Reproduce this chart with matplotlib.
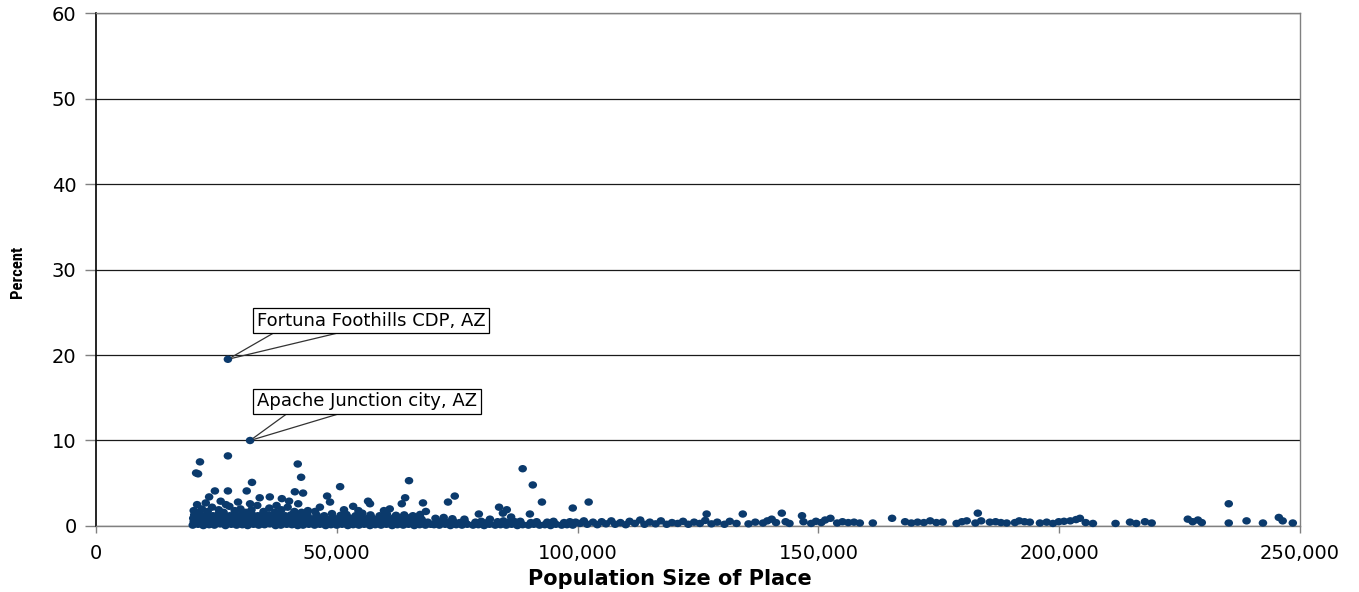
import matplotlib
matplotlib.use("Agg")
import matplotlib.pyplot as plt
from matplotlib import font_manager
from matplotlib.path import Path
from matplotlib.transforms import Affine2D
import numpy as np

# ---- places of 20,000 to 45,000 people
pop_small = [
    20100, 21200, 22300, 23500, 24600, 25800, 26900, 28100, 29200, 30400, 31500,
    32700, 33800, 35000, 36100, 37300, 38400, 39600, 40700, 41900, 43000, 44200,
    20300, 21700, 22900, 24000, 25200, 26300, 27500, 28600, 29800, 30900, 32100,
    33200, 34400, 35500, 36700, 37800, 39000, 40100, 41300, 42400, 43600, 44700,
    20200, 21400, 22600, 23800, 24900, 26100, 27200, 28400, 29500, 30700, 31800,
    33000, 34100, 35300, 36400, 37600, 38700, 39900, 41000, 42200, 43300, 44500,
    20400, 21900, 23100, 24300, 25400, 26600, 27800, 28900, 30100, 31200, 32400,
    33600, 34700, 35900, 37000, 38200, 39300, 40500, 41600, 42800, 43900,
    20300, 21100, 22000, 23200, 24100, 25500, 26500, 27700, 28800, 30000, 31100,
    32300, 33500, 34800, 36000, 37200, 38500, 39800, 41200, 42700, 44000,
    24700, 27400, 31300, 41300, 43000, 23500, 36100, 29500, 34000, 38600, 40100,
    22800, 25900, 27000, 32000, 37500, 42000, 21000,
]
pct_small = [
    0.10, 0.20, 0.05, 0.15, 0.10, 0.25, 0.05, 0.20, 0.10, 0.15, 0.05,
    0.20, 0.10, 0.15, 0.25, 0.05, 0.10, 0.20, 0.15, 0.05, 0.10, 0.20,
    0.50, 0.45, 0.60, 0.40, 0.55, 0.50, 0.45, 0.60, 0.40, 0.50, 0.55,
    0.45, 0.60, 0.50, 0.40, 0.55, 0.45, 0.50, 0.60, 0.40, 0.50, 0.45,
    0.90, 0.85, 1.00, 0.80, 0.95, 0.90, 0.85, 1.00, 0.80, 0.90, 0.95,
    0.85, 1.00, 0.90, 0.80, 0.95, 0.85, 0.90, 1.00, 0.80, 0.90, 0.85,
    1.30, 1.25, 1.40, 1.20, 1.35, 1.30, 1.20, 1.40, 1.25, 1.30, 1.35,
    1.20, 1.40, 1.30, 1.25, 1.35, 1.20, 1.30, 1.40, 1.25, 1.30,
    1.80, 1.60, 2.00, 1.70, 2.20, 1.90, 1.60, 2.30, 1.80, 2.00, 1.60,
    1.90, 2.40, 1.70, 2.10, 1.60, 1.90, 2.20, 1.70, 1.60, 1.80,
    4.10, 4.10, 4.10, 4.00, 3.85, 3.40, 3.40, 2.80, 3.30, 3.20, 2.90,
    2.70, 2.90, 2.50, 2.60, 2.40, 2.60, 2.50,
]

# ---- 45,000 to 70,000
pop_mid = [
    45400, 46500, 47700, 48800, 50000, 51100, 52300, 53400, 54600, 55700, 56900,
    58000, 59200, 60300, 61500, 62600, 63800, 64900, 66100, 67200, 68400, 69500,
    45900, 47100, 48200, 49400, 50500, 51700, 52800, 54000, 55100, 56300, 57400,
    58600, 59700, 60900, 62000, 63200, 64300, 65500, 66600, 67800, 68900,
    45300, 46700, 47900, 49100, 50200, 51400, 52600, 53700, 54900, 56100, 57200,
    58400, 59500, 60700, 61800, 63000, 64100, 65300, 66400, 67600,
    45800, 47400, 49000, 50800, 52000, 53900, 55300, 57000, 58900, 60400, 62300,
    64000, 65800, 67300,
    46500, 48000, 48600, 50700, 53400, 56500, 56900, 63500, 64200, 65000, 67900,
    51500, 59800, 61000, 45500, 54500, 68500,
]
pct_mid = [
    0.10, 0.20, 0.05, 0.15, 0.10, 0.20, 0.05, 0.15, 0.10, 0.20, 0.05,
    0.15, 0.10, 0.20, 0.05, 0.15, 0.10, 0.20, 0.05, 0.15, 0.10, 0.20,
    0.50, 0.45, 0.55, 0.40, 0.50, 0.60, 0.45, 0.50, 0.40, 0.55, 0.50,
    0.45, 0.60, 0.40, 0.50, 0.55, 0.45, 0.50, 0.40, 0.55, 0.45,
    0.85, 0.90, 0.80, 1.00, 0.85, 0.90, 0.95, 0.80, 0.90, 0.85, 1.00,
    0.80, 0.90, 0.85, 0.95, 0.80, 0.90, 1.00, 0.85, 0.80,
    1.30, 1.20, 1.45, 1.25, 1.35, 1.20, 1.50, 1.30, 1.20, 1.40, 1.25,
    1.30, 1.20, 1.35,
    2.20, 3.50, 2.80, 4.60, 2.30, 2.90, 2.60, 2.60, 3.30, 5.30, 2.70,
    1.90, 1.80, 2.00, 1.70, 1.80, 1.70,
]

# ---- 70,000 to 100,000
pop_upper = [
    70200, 71300, 72500, 73600, 74800, 76000, 77100, 78300, 79400, 80600, 81700,
    82900, 84000, 85200, 86300, 87500, 88600, 89800, 90900, 92100, 93200, 94400,
    95500, 96700, 97800, 99000,
    70700, 71900, 73000, 74200, 75500, 76600, 78800, 80000, 81200, 83400, 84600,
    85800, 87000, 88100, 90300, 91500, 93700, 95000, 97200, 98400, 99600,
    70500, 72200, 74000, 79500, 84500, 85300, 86200, 90100, 76500, 81800,
    73100, 74500, 83700, 88600, 90700, 92600, 99000,
]
pct_upper = [
    0.15, 0.10, 0.20, 0.05, 0.15, 0.10, 0.20, 0.10, 0.15, 0.05, 0.20,
    0.10, 0.15, 0.10, 0.20, 0.05, 0.15, 0.10, 0.20, 0.10, 0.15, 0.05,
    0.20, 0.10, 0.15, 0.10,
    0.50, 0.60, 0.45, 0.55, 0.40, 0.50, 0.45, 0.55, 0.40, 0.50, 0.60,
    0.45, 0.50, 0.55, 0.40, 0.50, 0.45, 0.55, 0.40, 0.50, 0.45,
    0.90, 1.00, 0.85, 1.40, 1.50, 1.90, 1.05, 1.40, 0.80, 0.80,
    2.80, 3.50, 2.20, 6.70, 4.80, 2.80, 2.10,
]

# ---- 100,000 to 250,000
pop_large = [
    100500, 101300, 102000, 103200, 104100, 105000, 105900, 107000, 107800,
    108900, 110000, 110800, 111900, 113000, 113900, 115000, 116200, 117300,
    118500, 119600, 120800, 121900, 123000, 124200, 125400, 126500, 126800,
    127800, 129000, 130500, 131600, 133000, 134300, 135500, 136900, 138500,
    139400, 140300, 141200, 142400, 143200, 144000, 146600, 146900, 148500,
    149500, 150600, 151400, 152500, 153900, 155000, 156200, 157400, 158600,
    161300, 165300, 168000, 169300, 170600, 171900, 173200, 174500, 175800,
    178700, 179800, 180800, 183100, 182600, 183800, 185600, 186800, 187900,
    189100, 190800, 191700, 192800, 193900, 196000, 197400, 198700, 199900,
    201000, 202300, 203500, 204300, 205500, 207000, 211700, 214700, 216000,
    217800, 219200, 226700, 227700, 228800, 229600, 235200, 238900, 242300,
    245600, 246400, 248500, 102300, 235200,
]
pct_large = [
    0.30, 0.60, 0.20, 0.45, 0.15, 0.50, 0.25, 0.60, 0.20,
    0.40, 0.15, 0.55, 0.30, 0.70, 0.20, 0.45, 0.25, 0.60,
    0.20, 0.40, 0.30, 0.55, 0.20, 0.45, 0.30, 0.65, 1.40,
    0.25, 0.45, 0.20, 0.55, 0.30, 1.40, 0.25, 0.45, 0.35,
    0.60, 0.80, 0.40, 1.50, 0.50, 0.30, 1.20, 0.50, 0.30,
    0.55, 0.40, 0.70, 0.90, 0.35, 0.50, 0.40, 0.45, 0.35,
    0.35, 0.90, 0.50, 0.35, 0.45, 0.40, 0.60, 0.40, 0.45,
    0.30, 0.50, 0.60, 1.50, 0.35, 0.60, 0.45, 0.50, 0.40,
    0.35, 0.40, 0.60, 0.50, 0.45, 0.35, 0.45, 0.30, 0.50,
    0.55, 0.60, 0.75, 0.90, 0.40, 0.30, 0.30, 0.45, 0.30,
    0.50, 0.35, 0.80, 0.50, 0.70, 0.40, 0.35, 0.60, 0.35,
    1.00, 0.60, 0.35, 2.80, 2.60,
]

# ---- high values
pop_high = [27400, 32000, 27400, 21600, 20800, 21200, 41900, 42600, 32400]
pct_high = [19.5, 10.0, 8.2, 7.5, 6.2, 6.1, 7.25, 5.7, 5.1]

# callouts: labelled place, box centre, and where the two leader lines leave the box
labels = ["Fortuna Foothills CDP, AZ", "Apache Junction city, AZ"]
label_pop = [27400, 32000]
label_pct = [19.5, 10.0]
label_box_pop = [57100, 56300]
label_box_pct = [24.0, 14.6]
leader_pop = [(38200, 53400), (40300, 52100)]
leader_pct = [23.0, 13.4]

x_ticks = [0, 50000, 100000, 150000, 200000, 250000]
y_ticks = [0, 10, 20, 30, 40, 50, 60]

pop = np.concatenate([pop_small, pop_mid, pop_upper, pop_large, pop_high])
pct = np.concatenate([pct_small, pct_mid, pct_upper, pct_large, pct_high])

navy = "#0b3a6c"

# narrow face for the y label if one is around
installed = {f.name for f in font_manager.fontManager.ttflist}
narrow = next((n for n in ["Liberation Sans Narrow", "DejaVu Sans Condensed",
                           "Roboto Condensed", "Open Sans Condensed"] if n in installed),
              "Liberation Sans")

# slightly wide dots
dot = Path.unit_circle().transformed(Affine2D().scale(1.15, 1.0))

fig = plt.figure(figsize=(13.59, 5.92), dpi=100)
ax = fig.add_axes([0.0706, 0.1115, 0.886, 0.8665])

ax.scatter(pop, pct, s=38, marker=dot, color=navy, edgecolors="none", zorder=3,
           clip_on=False)

ax.set_xlim(0, 250000)
ax.set_ylim(0, 60)
ax.set_xticks(x_ticks)
ax.set_xticklabels([f"{t:,}" for t in x_ticks])
ax.set_yticks(y_ticks)

ax.grid(axis="y", color="#1a1a1a", linewidth=0.9, zorder=1)
ax.grid(axis="x", visible=False)
ax.set_axisbelow(True)

ax.spines["left"].set_color("black")
ax.spines["left"].set_linewidth(1.2)
for side in ["top", "right", "bottom"]:
    ax.spines[side].set_color("#808080")
    ax.spines[side].set_linewidth(1.0)

ax.tick_params(axis="y", direction="out", length=8, width=1, color="#808080",
               labelsize=14, pad=6)
ax.tick_params(axis="x", direction="out", length=5, width=1, color="#808080",
               labelsize=14, pad=8)

ax.set_xlabel("Population Size of Place", fontsize=15, fontweight="bold")
ax.xaxis.set_label_coords(0.477, -0.083)
ax.set_ylabel("Percent", fontsize=12, fontweight="bold", family=narrow)
ax.yaxis.set_label_coords(-0.059, 0.495)

for i, name in enumerate(labels):
    ax.annotate(name, xy=(label_box_pop[i], label_box_pct[i]), fontsize=13,
                ha="center", va="center", zorder=6,
                bbox=dict(boxstyle="square,pad=0.2", fc="white", ec="black", lw=0.9))
    for lx in leader_pop[i]:
        ax.annotate("", xy=(label_pop[i], label_pct[i]), xytext=(lx, leader_pct[i]),
                    zorder=5,
                    arrowprops=dict(arrowstyle="-", color="#333333", lw=0.9,
                                    shrinkA=0, shrinkB=3))

fig.savefig("out.png", dpi=100)
